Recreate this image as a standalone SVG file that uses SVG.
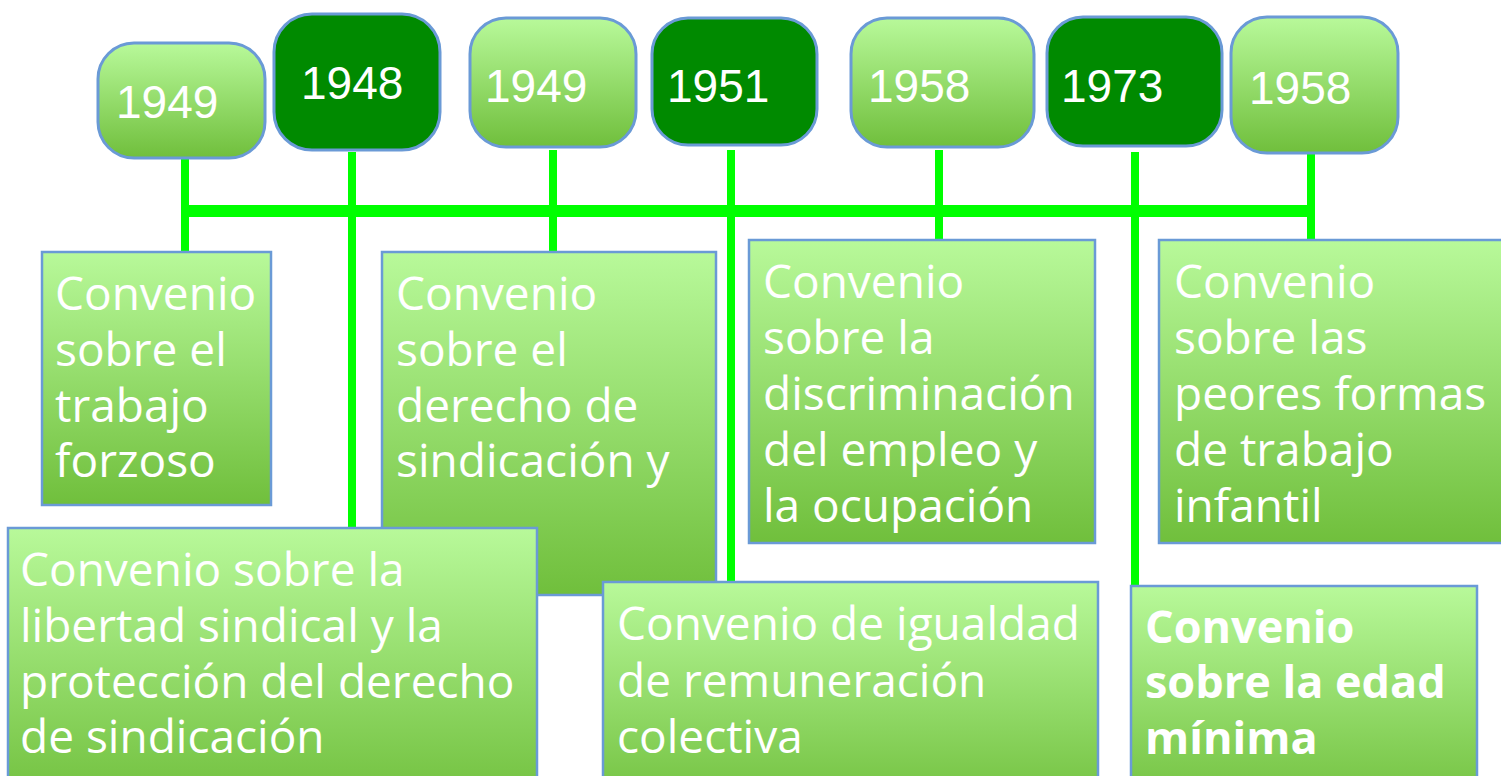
<svg xmlns="http://www.w3.org/2000/svg" width="1501" height="776" viewBox="0 0 1501 776">
<defs>
<linearGradient id="g" x1="0" y1="0" x2="0" y2="1">
<stop offset="0" stop-color="#b8f99a"/>
<stop offset="1" stop-color="#70bf3c"/>
</linearGradient>
<style>
.yl{fill:url(#g);stroke:#6a9ad6;stroke-width:3}
.yd{fill:#008a00;stroke:#6a9ad6;stroke-width:3}
.yt{font-family:"Liberation Sans",Arial,sans-serif;font-size:46px;fill:#fff}
.bx{fill:url(#g);stroke:#6a9ad6;stroke-width:2.5}
.tx{font-family:"Open Sans","DejaVu Sans",sans-serif;font-size:46px;fill:#fff}
.b{font-weight:bold;font-size:45px}
.c{stroke:#00ff00;fill:none}
</style>
</defs>
<rect width="1501" height="776" fill="#fff"/>
<g id="connectors">
<line class="c" x1="182" y1="211" x2="1315" y2="211" stroke-width="12"/>
<line class="c" x1="185" y1="158" x2="185" y2="252" stroke-width="8"/>
<line class="c" x1="352" y1="152" x2="352" y2="530" stroke-width="8"/>
<line class="c" x1="553" y1="150" x2="553" y2="252" stroke-width="8"/>
<line class="c" x1="731" y1="150" x2="731" y2="584" stroke-width="8"/>
<line class="c" x1="939" y1="150" x2="939" y2="240" stroke-width="8"/>
<line class="c" x1="1135" y1="152" x2="1135" y2="588" stroke-width="8"/>
<line class="c" x1="1311" y1="148" x2="1311" y2="240" stroke-width="8"/>
</g>
<g id="y1949a"><rect class="yl" x="98" y="43" width="167" height="115" rx="36"/><text class="yt" x="116" y="118">1949</text></g>
<g id="y1948"><rect class="yd" x="274" y="14" width="166" height="136" rx="38"/><text class="yt" x="301" y="99">1948</text></g>
<g id="y1949b"><rect class="yl" x="470" y="18" width="166" height="129" rx="36"/><text class="yt" x="485" y="102">1949</text></g>
<g id="y1951"><rect class="yd" x="652" y="18" width="165" height="127" rx="36"/><text class="yt" x="667" y="102">1951</text></g>
<g id="y1958a"><rect class="yl" x="851" y="18" width="183" height="129" rx="36"/><text class="yt" x="868" y="102">1958</text></g>
<g id="y1973"><rect class="yd" x="1047" y="17" width="175" height="129" rx="36"/><text class="yt" x="1061" y="102">1973</text></g>
<g id="y1958b"><rect class="yl" x="1231" y="17" width="167" height="136" rx="36"/><text class="yt" x="1249" y="104">1958</text></g>
<g id="n-forzoso"><rect class="bx" x="42" y="252" width="229" height="253"/>
<text class="tx" x="55" y="310">Convenio</text><text class="tx" x="55" y="366">sobre el</text><text class="tx" x="55" y="422">trabajo</text><text class="tx" x="55" y="477">forzoso</text></g>
<g id="n-sindicacion"><rect class="bx" x="382" y="252" width="334" height="343"/>
<text class="tx" x="396" y="310">Convenio</text><text class="tx" x="396" y="366">sobre el</text><text class="tx" x="396" y="422">derecho de</text><text class="tx" x="396" y="477">sindicación y</text></g>
<g id="n-libertad"><rect class="bx" x="8" y="528" width="529" height="280"/>
<text class="tx" x="20" y="586">Convenio sobre la</text><text class="tx" x="20" y="642">libertad sindical y la</text><text class="tx" x="20" y="698">protección del derecho</text><text class="tx" x="20" y="753">de sindicación</text></g>
<g id="n-discriminacion"><rect class="bx" x="749" y="240" width="346" height="303"/>
<text class="tx" x="763" y="298">Convenio</text><text class="tx" x="763" y="354">sobre la</text><text class="tx" x="763" y="410">discriminación</text><text class="tx" x="763" y="466">del empleo y</text><text class="tx" x="763" y="522">la ocupación</text></g>
<g id="n-infantil"><rect class="bx" x="1159" y="240" width="344" height="303"/>
<text class="tx" x="1174" y="298">Convenio</text><text class="tx" x="1174" y="354">sobre las</text><text class="tx" x="1174" y="410">peores formas</text><text class="tx" x="1174" y="466">de trabajo</text><text class="tx" x="1174" y="522">infantil</text></g>
<g id="n-igualdad"><rect class="bx" x="603" y="582" width="495" height="230"/>
<text class="tx" x="617" y="640">Convenio de igualdad</text><text class="tx" x="617" y="697">de remuneración</text><text class="tx" x="617" y="753">colectiva</text></g>
<g id="n-edad"><rect class="bx" x="1131" y="586" width="346" height="226"/>
<text class="tx b" x="1145" y="643">Convenio</text><text class="tx b" x="1145" y="698">sobre la edad</text><text class="tx b" x="1145" y="754">mínima</text></g>
</svg>
